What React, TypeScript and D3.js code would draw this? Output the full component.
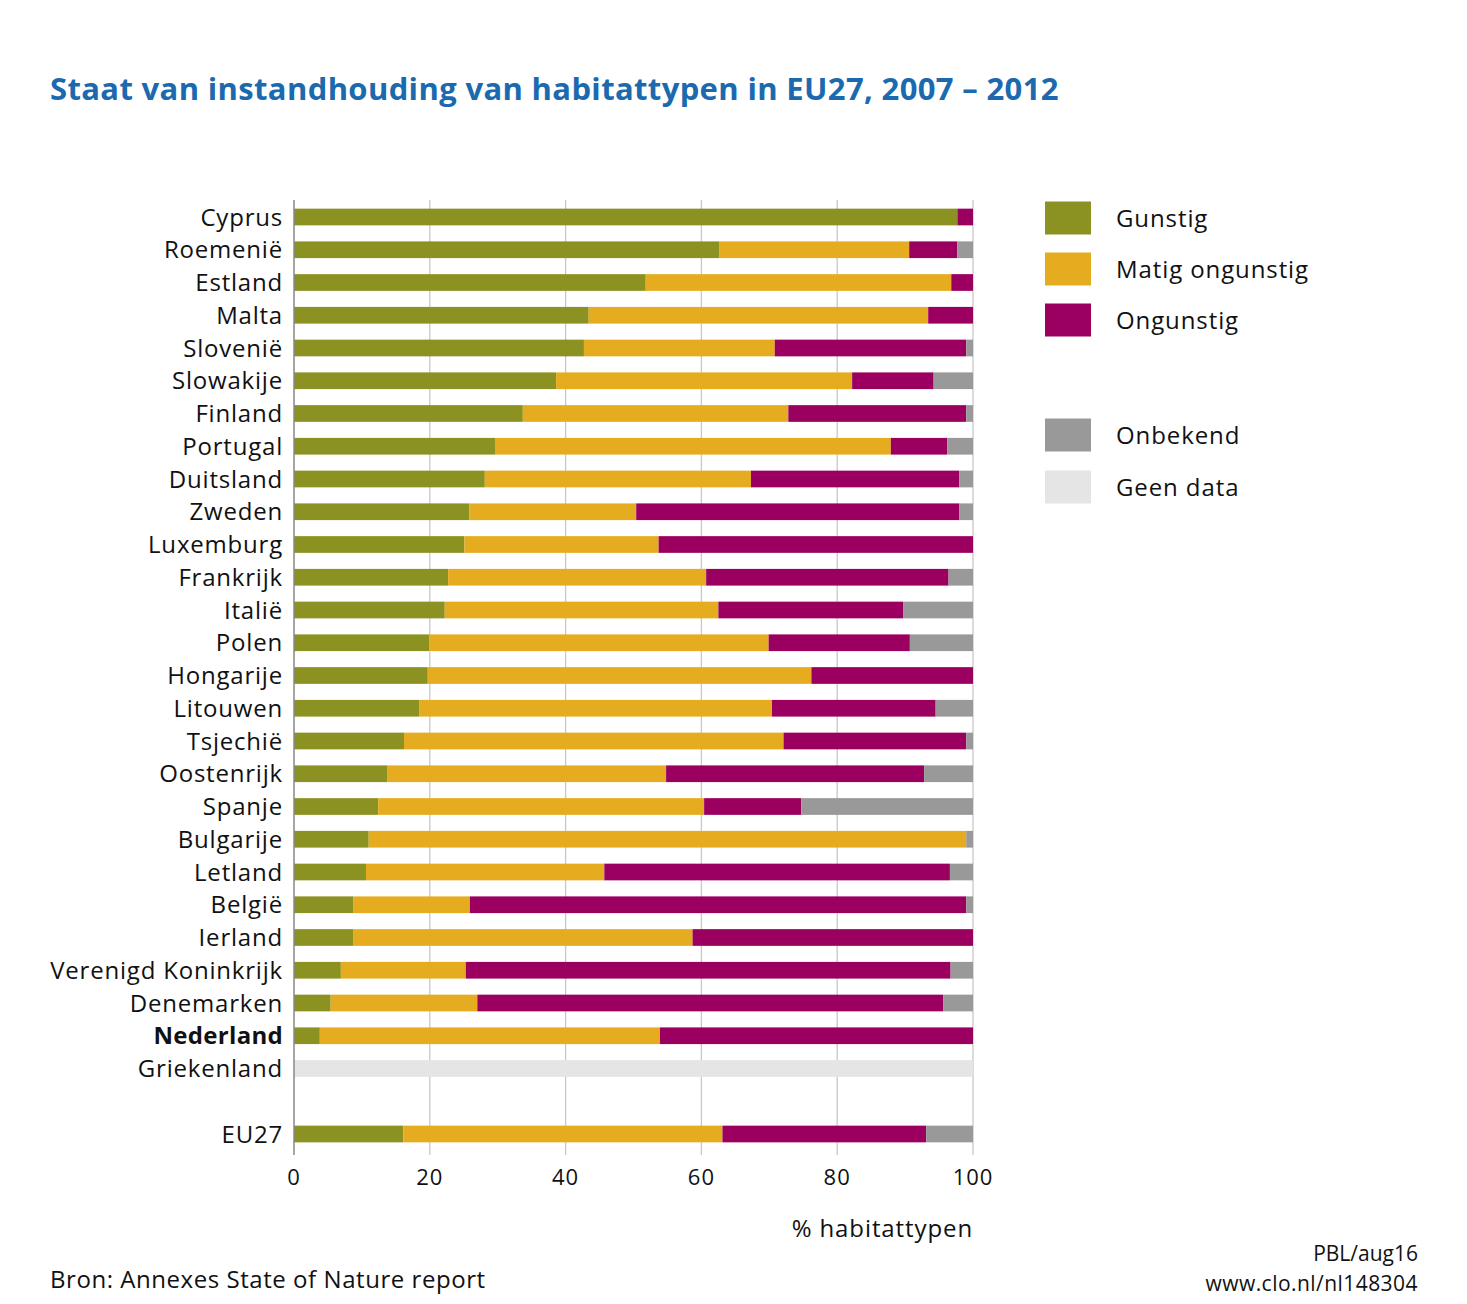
import React from "react";
import * as d3 from "d3";

const countries = [
  "Cyprus", "Roemenië", "Estland", "Malta", "Slovenië", "Slowakije", "Finland",
  "Portugal", "Duitsland", "Zweden", "Luxemburg", "Frankrijk", "Italië", "Polen",
  "Hongarije", "Litouwen", "Tsjechië", "Oostenrijk", "Spanje", "Bulgarije", "Letland",
  "België", "Ierland", "Verenigd Koninkrijk", "Denemarken", "Nederland", "Griekenland",
  "", "EU27",
];
const gunstig = [97.7, 62.6, 51.8, 43.4, 42.7, 38.6, 33.7, 29.6, 28.1, 25.8, 25.1, 22.7, 22.2, 19.9, 19.7, 18.5, 16.2, 13.7, 12.4, 11.0, 10.6, 8.7, 8.7, 6.9, 5.4, 3.8, 0, 0, 16.1];
const matig = [0, 28.0, 45.0, 50.0, 28.1, 43.6, 39.1, 58.3, 39.2, 24.6, 28.6, 38.0, 40.3, 50.0, 56.5, 51.9, 55.9, 41.1, 48.0, 88.0, 35.1, 17.2, 50.0, 18.4, 21.6, 50.1, 0, 0, 47.0];
const ongunstig = [2.3, 7.1, 3.2, 6.6, 28.2, 12.0, 26.2, 8.3, 30.7, 47.6, 46.3, 35.7, 27.2, 20.8, 23.8, 24.1, 26.9, 38.0, 14.3, 0, 50.9, 73.1, 41.3, 71.4, 68.6, 46.1, 0, 0, 30.0];
const onbekend = [0, 2.3, 0, 0, 1.0, 5.8, 1.0, 3.8, 2.0, 2.0, 0, 3.6, 10.3, 9.3, 0, 5.5, 1.0, 7.2, 25.3, 1.0, 3.4, 1.0, 0, 3.3, 4.4, 0, 0, 0, 6.9];
const geenData = [0, 0, 0, 0, 0, 0, 0, 0, 0, 0, 0, 0, 0, 0, 0, 0, 0, 0, 0, 0, 0, 0, 0, 0, 0, 0, 100, 0, 0];

const seriesKeys = ["gunstig", "matig", "ongunstig", "onbekend", "geenData"];
const seriesLabels = ["Gunstig", "Matig ongunstig", "Ongunstig", "Onbekend", "Geen data"];
const seriesColors = ["#8c9222", "#e6ac1f", "#9b0060", "#999999", "#e5e5e5"];
const xTicks = [0, 20, 40, 60, 80, 100];

const FONT = "'Open Sans', 'Noto Sans', sans-serif";

export default function App() {
  const W = 1467, H = 1304;
  const x0 = 294, x1 = 973;
  const step = 32.75;
  const top = 217 - step / 2;
  const rows = countries.map((c, i) => ({
    key: String(i), name: c,
    gunstig: gunstig[i], matig: matig[i], ongunstig: ongunstig[i], onbekend: onbekend[i], geenData: geenData[i],
  }));
  const x = d3.scaleLinear().domain([0, 100]).range([x0, x1]);
  const y = d3.scaleBand().domain(rows.map(r => r.key)).range([top, top + step * rows.length]).paddingInner(0.49).paddingOuter(0.245);
  const stack = d3.stack<any>().keys(seriesKeys);
  const stacked = stack(rows);
  const gridTop = 200, gridBottom = 1155;

  const legendY = [218, 269, 320, 435, 487];

  return (
    <div style={{ position: "absolute", left: 0, top: 0 }}>
      <svg width={W} height={H} style={{ display: "block", background: "#fff" }}>
        <text x={50} y={100} fill="#1b69ae" fontFamily={FONT} fontWeight={700} fontSize={31} letterSpacing={0.35}>
          Staat van instandhouding van habitattypen in EU27, 2007 – 2012
        </text>
        {xTicks.filter(t => t > 0).map(t => (
          <line key={t} x1={x(t)} x2={x(t)} y1={gridTop} y2={gridBottom} stroke="#c8c8c8" strokeWidth={1.3} />
        ))}
        {stacked.map((s, si) => (
          <g key={s.key} fill={seriesColors[si]}>
            {s.map((d, i) => {
              const w = x(d[1]) - x(d[0]);
              if (w <= 0) return null;
              return <rect key={i} x={x(d[0])} y={y(String(i))} width={w} height={y.bandwidth()} />;
            })}
          </g>
        ))}
        <line x1={x0} x2={x0} y1={gridTop} y2={gridBottom} stroke="#888" strokeWidth={1.5} />
        {rows.map((r, i) => r.name ? (
          <text key={i} x={283} y={(y(r.key) as number) + y.bandwidth() / 2} dy="0.36em" textAnchor="end"
            fontFamily={FONT} fontSize={24} letterSpacing={r.name === "Nederland" ? 0.3 : 0.8}
            fontWeight={r.name === "Nederland" ? 700 : 400} fill="#111">
            {r.name}
          </text>
        ) : null)}
        {xTicks.map(t => (
          <text key={t} x={x(t)} y={1185} textAnchor="middle" fontFamily={FONT} fontSize={22} letterSpacing={1} fill="#111">{t}</text>
        ))}
        <text x={973} y={1237} textAnchor="end" fontFamily={FONT} fontSize={24} letterSpacing={0.9} fill="#111">% habitattypen</text>
        {seriesLabels.map((l, i) => (
          <g key={l}>
            <rect x={1045} y={legendY[i] - 16.5} width={46} height={33} fill={seriesColors[i]} />
            <text x={1116} y={legendY[i]} dy="0.36em" fontFamily={FONT} fontSize={24} letterSpacing={0.9} fill="#111">{l}</text>
          </g>
        ))}
        <text x={50} y={1288} fontFamily={FONT} fontSize={24} letterSpacing={0.55} fill="#111">Bron: Annexes State of Nature report</text>
        <text x={1418} y={1261} textAnchor="end" fontFamily={FONT} fontSize={21} fill="#111">PBL/aug16</text>
        <text x={1418} y={1291} textAnchor="end" fontFamily={FONT} fontSize={21} letterSpacing={0.45} fill="#111">www.clo.nl/nl148304</text>
      </svg>
    </div>
  );
}
